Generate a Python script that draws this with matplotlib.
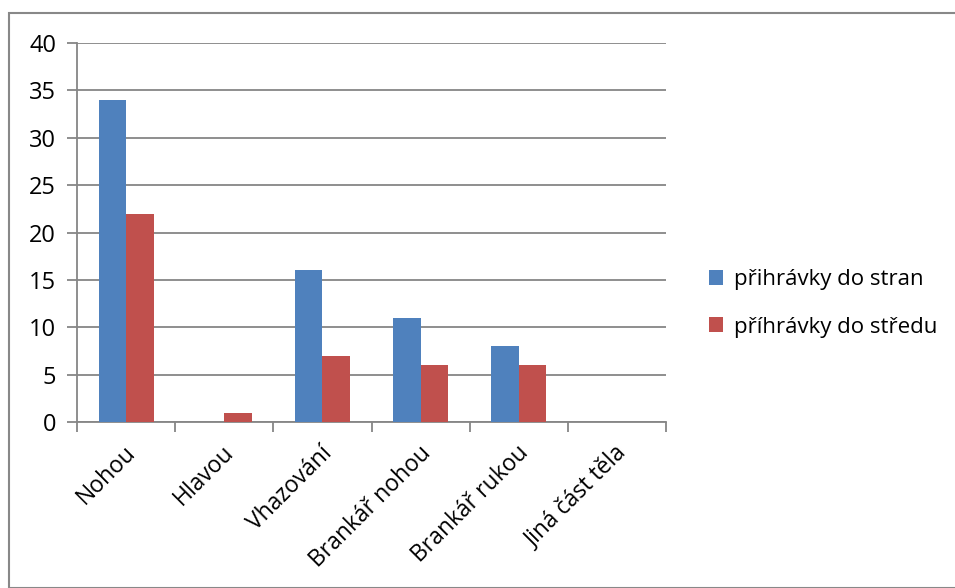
import numpy as np
import matplotlib.pyplot as plt
from matplotlib.patches import Rectangle

# Categories and counts per pass type
categories = ["Nohou", "Hlavou", "Vhazování", "Brankář nohou", "Brankář rukou", "Jiná část těla"]
strany = [34, 0, 16, 11, 8, 0]
stred = [22, 1, 7, 6, 6, 0]
series_names = ["přihrávky do stran", "příhrávky do středu"]

blue = "#4F81BD"
red = "#C0504D"
grid_gray = "#868686"

plt.rcParams['font.family'] = ['Open Sans', 'DejaVu Sans']

W, H = 955, 588
fig = plt.figure(figsize=(W / 100, H / 100), dpi=100)

# outer chart border
fig.patches.append(Rectangle((9 / W, 0), 2, 1 - 13 / H, transform=fig.transFigure,
                             fill=False, edgecolor="#888888", linewidth=1.5))

ax = fig.add_axes([77 / W, 1 - 422 / H, (666 - 77) / W, (422 - 43) / H])

x = np.arange(len(categories))
bw = 0.28
ax.bar(x - bw / 2, strany, bw, color=blue, label=series_names[0], zorder=3)
ax.bar(x + bw / 2, stred, bw, color=red, label=series_names[1], zorder=3)

ax.set_xlim(-0.5, len(categories) - 0.5)
ax.set_ylim(0, 40)
ax.set_yticks(range(0, 41, 5))
ax.yaxis.grid(True, color=grid_gray, linewidth=1.3, zorder=0)

for side in ["top", "right"]:
    ax.spines[side].set_visible(False)
for side in ["left", "bottom"]:
    ax.spines[side].set_color(grid_gray)
    ax.spines[side].set_linewidth(1.3)

# category boundaries as ticks
ax.set_xticks(np.arange(-0.5, len(categories), 1.0))
ax.set_xticklabels([])
ax.tick_params(axis="x", length=7, width=1.3, color=grid_gray)
ax.tick_params(axis="y", length=7, width=1.3, color=grid_gray, labelsize=17, pad=8)

for i, name in enumerate(categories):
    ax.text(i - 0.02, -2.0, name, rotation=45, ha="right", va="top",
            rotation_mode="anchor", fontsize=16.5, transform=ax.transData)

fig.legend(loc="upper left", bbox_to_anchor=(700 / W, 1 - 260 / H), frameon=False,
           fontsize=16, handlelength=0.65, handleheight=0.65, handletextpad=0.5,
           labelspacing=1.2, borderaxespad=0)

fig.savefig("out.png", dpi=100)
